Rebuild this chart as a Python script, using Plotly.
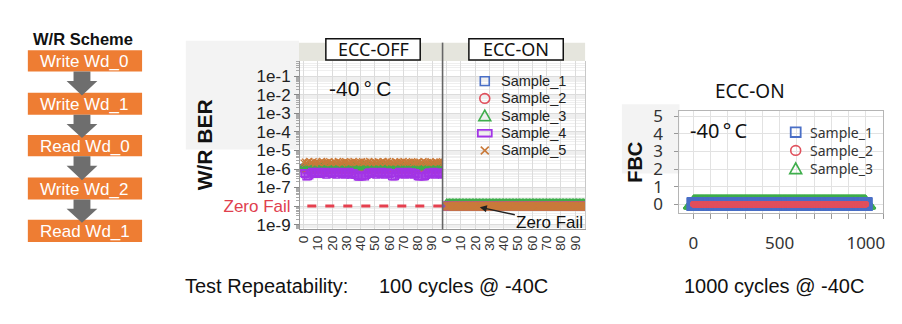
import plotly.graph_objects as go

W, H = 902, 324
def px(x): return x / W
def py(y): return 1 - y / H

# ---------------- data ----------------
flow_steps = ["Write Wd_0", "Write Wd_1", "Read Wd_0", "Write Wd_2", "Read Wd_1"]
sample_names = ["Sample_1", "Sample_2", "Sample_3", "Sample_4", "Sample_5"]

cycles_100 = list(range(100))
# W/R BER, ECC-OFF, values in units of 1e-6
ber_off_s1_e6 = [1.1,1.2,1.0,1.3,1.1,0.9,1.2,1.1,1.3,1.0, 1.2,1.1,1.0,1.3,1.2,1.1,0.9,1.2,1.0,1.1,
                 1.3,1.1,1.2,1.0,1.1,1.3,1.2,1.0,1.1,1.2, 1.0,1.2,1.3,1.1,1.0,1.2,1.1,1.3,1.0,1.1,
                 1.2,1.0,1.1,1.3,1.2,1.1,1.0,1.2,1.3,1.1, 1.0,1.2,1.1,1.0,1.3,1.2,1.1,1.0,1.2,1.1,
                 1.3,1.1,1.0,1.2,1.1,1.3,1.2,1.0,1.1,1.2, 1.1,1.3,1.2,1.0,1.1,1.2,1.0,1.3,1.1,1.2,
                 1.0,1.1,1.2,1.3,1.1,1.0,1.2,1.1,1.3,1.0, 1.2,1.1,1.0,1.2,1.3,1.1,1.2,1.0,1.1,1.2]
ber_off_s2_e6 = [1.0,0.9,1.1,1.0,0.8,1.0,1.1,0.9,1.0,1.2, 0.9,1.0,1.1,0.9,1.0,0.8,1.1,1.0,0.9,1.0,
                 1.1,1.0,0.9,1.2,1.0,0.9,1.0,1.1,0.9,1.0, 1.0,0.9,1.1,1.0,0.8,1.0,1.1,0.9,1.2,1.0,
                 0.9,1.1,1.0,0.9,1.0,1.1,0.9,1.0,1.1,0.8, 1.0,1.1,0.9,1.0,1.2,0.9,1.0,1.1,1.0,0.9,
                 1.1,1.0,0.9,1.0,1.1,0.9,1.0,1.2,0.9,1.0, 1.0,0.9,1.1,1.0,0.9,1.0,1.1,0.8,1.0,1.1,
                 0.9,1.0,1.1,1.0,0.9,1.2,1.0,0.9,1.0,1.1, 1.0,0.9,1.0,1.1,0.9,1.0,1.1,1.0,0.9,1.0]
ber_off_s3_e6 = [1.3,1.5,1.2,1.4,1.6,1.3,1.1,1.5,1.4,1.2, 1.6,1.3,1.4,1.2,1.5,1.7,1.3,1.4,1.1,1.5,
                 1.4,1.2,1.6,1.3,1.5,1.4,1.2,1.3,1.6,1.4, 1.5,1.3,1.1,1.4,1.6,1.2,1.5,1.3,1.4,1.7,
                 1.2,1.4,1.5,1.3,1.6,1.4,1.2,1.5,1.3,1.4, 1.6,1.3,1.4,1.2,1.5,1.3,1.7,1.4,1.2,1.5,
                 1.3,1.6,1.4,1.3,1.5,1.2,1.4,1.6,1.3,1.5, 1.4,1.2,1.5,1.3,1.6,1.4,1.3,1.5,1.1,1.4,
                 1.6,1.3,1.4,1.5,1.2,1.4,1.6,1.3,1.5,1.4, 1.2,1.5,1.3,1.4,1.6,1.3,1.5,1.2,1.4,1.3]
ber_off_s4_e6 = [0.6,0.55,0.4,0.41,0.45,0.6,0.7,0.55,0.6,0.65, 0.7,0.6,0.55,0.65,0.6,0.7,0.5,0.6,0.65,0.6,
                 0.55,0.7,0.6,0.5,0.65,0.6,0.7,0.55,0.6,0.5, 0.65,0.6,0.7,0.5,0.55,0.6,0.5,0.48,0.4,0.39,
                 0.41,0.4,0.45,0.4,0.48,0.6,0.65,0.55,0.6,0.7, 0.6,0.5,0.65,0.6,0.55,0.7,0.6,0.5,0.6,0.65,
                 0.55,0.6,0.41,0.4,0.42,0.5,0.6,0.7,0.55,0.6, 0.65,0.5,0.6,0.7,0.55,0.6,0.65,0.5,0.6,0.55,
                 0.41,0.4,0.42,0.41,0.4,0.41,0.48,0.6,0.65,0.55, 0.6,0.7,0.5,0.6,0.65,0.55,0.6,0.5,0.6,0.65]
ber_off_s5_e6 = [2.2,2.5,2.1,2.4,2.7,2.1,2.3,2.6,2.0,2.4, 2.3,2.1,2.5,2.7,2.2,2.1,2.4,2.3,2.6,2.1,
                 2.2,2.5,2.4,2.1,2.7,2.3,2.2,2.0,2.4,2.6, 2.5,2.2,2.1,2.4,2.3,2.7,2.4,2.1,2.2,2.5,
                 2.3,2.6,2.1,2.4,2.5,2.2,2.7,2.3,2.1,2.5, 2.4,2.1,2.6,2.3,2.2,2.5,2.6,2.1,2.4,2.7,
                 2.2,2.5,2.3,2.1,2.6,2.4,2.1,2.5,2.3,2.4, 2.7,2.2,2.4,2.1,2.5,2.3,2.6,2.1,2.4,2.2,
                 2.4,2.5,2.1,2.3,2.7,2.4,2.2,2.4,2.1,2.6, 2.3,2.1,2.5,2.4,2.2,2.5,2.3,2.6,2.1,2.4]
ber_off_e6 = [ber_off_s1_e6, ber_off_s2_e6, ber_off_s3_e6, ber_off_s4_e6, ber_off_s5_e6]

# ECC-ON: every cycle is a zero-fail result, plotted on the "Zero Fail" row
ZERO_FAIL = 1e-8
ber_on_fails = [0] * 100

ber_tickvals = [1e-1, 1e-2, 1e-3, 1e-4, 1e-5, 1e-6, 1e-7, 1e-8, 1e-9]
ber_ticktext = ["1e-1", "1e-2", "1e-3", "1e-4", "1e-5", "1e-6", "1e-7",
                '<span style="color:#e0404e">Zero Fail</span>', "1e-9"]
cycle_ticks = [0, 10, 20, 30, 40, 50, 60, 70, 80, 90]

fbc_cycles = list(range(0, 1001))
fbc_s1 = [0] * len(fbc_cycles)
fbc_s2 = [0] * len(fbc_cycles)
fbc_s3 = [0] * len(fbc_cycles)
fbc_xticks = [0, 500, 1000]
fbc_yticks = [0, 1, 2, 3, 4, 5]

# ---------------- styles ----------------
colors = ["#4a6fc6", "#e0505c", "#3fae4c", "#a234e6", "#c97a3a"]
symbols = ["square-open", "circle-open", "triangle-up-open", "square-open", "x-thin-open"]
off_sizes = [7, 7, 9, 7, 6]
on_sizes = [7, 7, 14, 8, 9]

FONT = "Liberation Sans, Arial, sans-serif"
FONT2 = "Noto Sans, Open Sans, sans-serif"

fig = go.Figure()

for i in range(5):
    fig.add_trace(go.Scatter(
        x=cycles_100, y=[v * 1e-6 for v in ber_off_e6[i]], mode="markers",
        xaxis="x", yaxis="y", showlegend=False, name=sample_names[i],
        marker=dict(symbol=symbols[i], size=off_sizes[i], color=colors[i],
                    line=dict(width=1.3, color=colors[i]))))
# zero fail dashed line (ECC-OFF)
fig.add_trace(go.Scatter(x=[-10, 110], y=[ZERO_FAIL, ZERO_FAIL], mode="lines",
                         xaxis="x", yaxis="y", showlegend=False,
                         line=dict(color="#e5404f", width=3, dash="dash")))
for i in range(5):
    fig.add_trace(go.Scatter(
        x=cycles_100, y=[ZERO_FAIL if f == 0 else f for f in ber_on_fails], mode="markers",
        xaxis="x2", yaxis="y2", showlegend=False, name=sample_names[i],
        marker=dict(symbol=symbols[i], size=on_sizes[i], color=colors[i],
                    line=dict(width=1.3, color=colors[i]))))

# FBC chart
fbc_series = [(2, fbc_s3, 17), (0, fbc_s1, 12), (1, fbc_s2, 5)]
for idx, vals, sz in fbc_series:
    fig.add_trace(go.Scatter(
        x=fbc_cycles, y=vals, mode="markers", xaxis="x3", yaxis="y3", showlegend=False,
        name=sample_names[idx],
        marker=dict(symbol=symbols[idx], size=sz, color=colors[idx],
                    line=dict(width=1.5, color=colors[idx]))))

shapes = []
annotations = []

def rect(x0, y0, x1, y1, **kw):
    d = dict(type="rect", xref="paper", yref="paper", x0=px(x0), x1=px(x1), y0=py(y1), y1=py(y0))
    d.update(kw)
    return d

def text(x, y, s, size, color="#111", family=FONT, **kw):
    d = dict(xref="paper", yref="paper", x=px(x), y=py(y), text=s, showarrow=False,
             font=dict(size=size, color=color, family=family), xanchor="center", yanchor="middle")
    d.update(kw)
    return d

# background artifacts
shapes.append(rect(183, 35, 297, 148, fillcolor="#f3f3f3", line=dict(width=0), layer="below"))
shapes.append(rect(622, 101, 680, 173, fillcolor="#f3f3f3", line=dict(width=0), layer="below"))

# ---- flow diagram ----
annotations.append(text(80, 33, "<b>W/R Scheme</b>", 16.5, "#111"))
box_y = [(45, 67), (89, 112), (133, 155), (177, 200), (221, 244)]
for (y0, y1), s in zip(box_y, flow_steps):
    shapes.append(rect(24, y0, 139, y1, fillcolor="#ee7d33", line=dict(width=0)))
    annotations.append(text(81.5, (y0 + y1) / 2 + 0.5, s, 17, "#ffffff"))
for k in range(4):
    yb = box_y[k][1]
    yt = box_y[k + 1][0]
    ym = yb + (yt - yb) * 0.45
    path = (f"M {px(70)},{py(yb)} L {px(87)},{py(yb)} L {px(87)},{py(ym)} L {px(94)},{py(ym)} "
            f"L {px(78.5)},{py(yt + 3)} L {px(63)},{py(ym)} L {px(70)},{py(ym)} Z")
    shapes.append(dict(type="path", xref="paper", yref="paper", path=path,
                       fillcolor="#6e6e6e", line=dict(width=0)))

# ---- BER chart decorations ----
shapes.append(rect(297, 37, 585, 56, fillcolor="#e5e5dd", line=dict(width=0)))
shapes.append(rect(324, 33, 419, 55, fillcolor="#ffffff", line=dict(color="#111", width=1.5)))
shapes.append(rect(468, 33, 563, 55, fillcolor="#ffffff", line=dict(color="#111", width=1.5)))
annotations.append(text(371.5, 44, "ECC-OFF", 18, "#111", FONT2))
annotations.append(text(515.5, 44, "ECC-ON", 18, "#111", FONT2))
shapes.append(dict(type="line", xref="paper", yref="paper", x0=px(441.5), x1=px(441.5),
                   y0=py(37), y1=py(231), line=dict(color="#666", width=1.6)))
annotations.append(text(202, 143, "<b>W/R BER</b>", 21, "#111", textangle=-90))
annotations.append(text(358, 85, "-40\u2009°\u2009C", 21, "#111"))

# legend 1 (manual)
leg1_y = [77, 95, 113, 131, 149]
lx = 484
for i, yy in enumerate(leg1_y):
    c = colors[i]
    if i == 0:
        shapes.append(rect(lx - 4.5, yy - 4.5, lx + 4.5, yy + 4.5, line=dict(color=c, width=1.6)))
    elif i == 1:
        shapes.append(dict(type="circle", xref="paper", yref="paper", x0=px(lx - 5), x1=px(lx + 5),
                           y0=py(yy + 5), y1=py(yy - 5), line=dict(color=c, width=1.6)))
    elif i == 2:
        path = f"M {px(lx-6)},{py(yy+5)} L {px(lx+6)},{py(yy+5)} L {px(lx)},{py(yy-6)} Z"
        shapes.append(dict(type="path", xref="paper", yref="paper", path=path, line=dict(color=c, width=1.6)))
    elif i == 3:
        shapes.append(rect(lx - 7, yy - 3.5, lx + 7, yy + 3.5, line=dict(color=c, width=1.8)))
    else:
        for a, b in [((-4, -4), (4, 4)), ((-4, 4), (4, -4))]:
            shapes.append(dict(type="line", xref="paper", yref="paper", x0=px(lx + a[0]), y0=py(yy + a[1]),
                               x1=px(lx + b[0]), y1=py(yy + b[1]), line=dict(color=c, width=1.6)))
    annotations.append(text(498, yy, sample_names[i], 14.5, "#222", xanchor="left"))

annotations.append(dict(xref="paper", yref="paper", x=px(479), y=py(208), ax=70, ay=15,
                        text="Zero Fail", showarrow=True,
                        arrowhead=2, arrowsize=1, arrowwidth=1.4, arrowcolor="#222",
                        font=dict(size=17, color="#111", family=FONT)))

# ---- FBC chart decorations ----
annotations.append(text(751, 87, "ECC-ON", 19, "#111", FONT2))
annotations.append(text(635, 161, "<b>FBC</b>", 20, "#111", textangle=-90))
annotations.append(text(720, 128, "-40\u2009°\u2009C", 20, "#111", FONT2))
leg2_y = [130, 149, 168]
lx2 = 797
for j, yy in enumerate(leg2_y):
    c = colors[j]
    if j == 0:
        shapes.append(rect(lx2 - 5, yy - 5, lx2 + 5, yy + 5, line=dict(color=c, width=1.8)))
    elif j == 1:
        shapes.append(dict(type="circle", xref="paper", yref="paper", x0=px(lx2 - 5), x1=px(lx2 + 5),
                           y0=py(yy + 5), y1=py(yy - 5), line=dict(color=c, width=1.6)))
    else:
        path = f"M {px(lx2-6)},{py(yy+5)} L {px(lx2+6)},{py(yy+5)} L {px(lx2)},{py(yy-6)} Z"
        shapes.append(dict(type="path", xref="paper", yref="paper", path=path, line=dict(color=c, width=1.6)))
    annotations.append(text(809, yy, sample_names[j], 14, "#333", FONT2, xanchor="left"))

# ---- bottom captions ----
annotations.append(text(180, 290, "Test Repeatability:", 20, "#111", xanchor="left"))
annotations.append(text(376, 290, "100 cycles @ -40C", 20, "#111", xanchor="left"))
annotations.append(text(683, 290, "1000 cycles @ -40C", 20, "#111", xanchor="left"))

grid = "#dcdcdc"
xcommon = dict(range=[-2.5, 97], tickvals=cycle_ticks, tickangle=-90, ticks="",
               tickfont=dict(size=13.5, color="#333", family=FONT), showgrid=True, gridcolor=grid,
               zeroline=False, showline=True, linecolor="#9a9a9a", linewidth=1)
fig.update_layout(
    width=W, height=H, margin=dict(l=0, r=0, t=0, b=0),
    paper_bgcolor="#ffffff", plot_bgcolor="#ffffff",
    font=dict(family=FONT), showlegend=False,
    xaxis=dict(domain=[px(298), px(441)], anchor="y", **xcommon),
    xaxis2=dict(domain=[px(442), px(585)], anchor="y2", **xcommon),
    yaxis=dict(type="log", range=[-9.26, -0.17], domain=[py(231), py(56)], anchor="x",
               tickvals=ber_tickvals, ticktext=ber_ticktext, ticks="outside", ticklen=5,
               tickcolor="#888", tickfont=dict(size=17, color="#222", family=FONT),
               showgrid=True, gridcolor=grid, zeroline=False, showline=True, linecolor="#9a9a9a",
               minor=dict(dtick="D1", showgrid=True, gridcolor="#efefef", ticks="outside",
                          ticklen=3, tickcolor="#aaa")),
    yaxis2=dict(type="log", range=[-9.26, -0.17], domain=[py(231), py(56)], anchor="x2",
                matches="y", showticklabels=False, tickvals=ber_tickvals, ticks="",
                showgrid=True, gridcolor=grid, zeroline=False, showline=True, mirror=True,
                linecolor="#c8c8c8",
                minor=dict(dtick="D1", showgrid=True, gridcolor="#efefef")),
    xaxis3=dict(domain=[px(680), px(885)], anchor="y3", range=[-80, 1100], tickvals=fbc_xticks,
                ticks="outside", ticklen=5, tickcolor="#999", ticklabelstandoff=10,
                tickfont=dict(size=17, color="#333", family=FONT2),
                showgrid=True, gridcolor="#e2e2e2", zeroline=False, showline=True, mirror=True,
                linecolor="#b5b5b5",
                minor=dict(dtick=100, tick0=0, showgrid=True, gridcolor="#e2e2e2", ticks="outside",
                           ticklen=5, tickcolor="#999")),
    yaxis3=dict(domain=[py(214), py(108)], anchor="x3", range=[-0.5, 5.3], tickvals=fbc_yticks,
                ticks="outside", ticklen=4, tickcolor="#999", ticklabelstandoff=8,
                tickfont=dict(size=17, color="#333", family=FONT2),
                showgrid=True, gridcolor="#e2e2e2", zeroline=False, showline=True, mirror=True,
                linecolor="#b5b5b5"),
    shapes=shapes, annotations=annotations,
)

fig.write_html("out.html")
